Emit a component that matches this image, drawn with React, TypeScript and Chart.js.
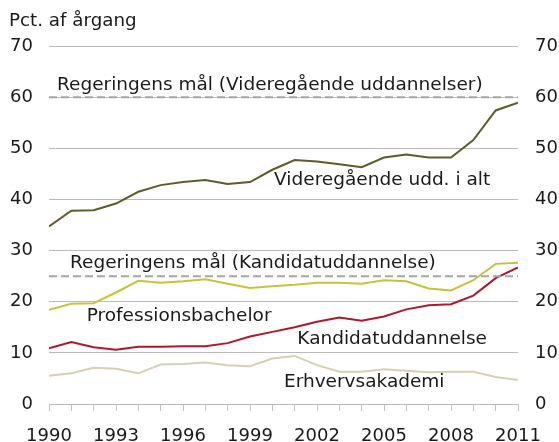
import React, { useEffect, useRef } from "react";
import { Chart, registerables } from "chart.js";

Chart.register(...registerables);

const years = [1990, 1991, 1992, 1993, 1994, 1995, 1996, 1997, 1998, 1999, 2000, 2001, 2002, 2003, 2004, 2005, 2006, 2007, 2008, 2009, 2010, 2011];
const videregaaende = [34.7, 37.8, 37.9, 39.2, 41.5, 42.8, 43.4, 43.8, 43.0, 43.4, 45.8, 47.7, 47.4, 46.9, 46.3, 48.2, 48.8, 48.2, 48.2, 51.6, 57.4, 58.9];
const professionsbachelor = [18.4, 19.6, 19.7, 21.8, 24.1, 23.7, 24.0, 24.4, 23.5, 22.7, 23.0, 23.3, 23.7, 23.7, 23.5, 24.2, 24.0, 22.6, 22.2, 24.2, 27.4, 27.6];
const kandidat = [10.9, 12.1, 11.1, 10.6, 11.2, 11.2, 11.3, 11.3, 11.9, 13.2, 14.1, 15.0, 16.1, 16.9, 16.3, 17.1, 18.5, 19.3, 19.5, 21.2, 24.6, 26.7];
const erhvervsakademi = [5.5, 6.0, 7.1, 6.9, 6.0, 7.7, 7.8, 8.1, 7.6, 7.4, 8.9, 9.4, 7.6, 6.3, 6.3, 6.8, 6.5, 6.2, 6.3, 6.3, 5.3, 4.7];
const goalVideregaaende = 60;
const goalKandidat = 25;
const yTicks = [0, 10, 20, 30, 40, 50, 60, 70];
const xLabelYears = [1990, 1993, 1996, 1999, 2002, 2005, 2008, 2011];

const titleText = "Pct. af årgang";
const annotations = [
  { text: "Regeringens mål (Videregående uddannelser)", x: 1990.36, y: 62.4 },
  { text: "Videregående udd. i alt", x: 2000.08, y: 43.8 },
  { text: "Regeringens mål (Kandidatuddannelse)", x: 1990.94, y: 27.5 },
  { text: "Professionsbachelor", x: 1991.69, y: 17.1 },
  { text: "Kandidatuddannelse", x: 2001.12, y: 12.65 },
  { text: "Erhvervsakademi", x: 2000.52, y: 4.24 },
];

const FONT = "'DejaVu Sans', Verdana, sans-serif";

export default function App() {
  const ref = useRef<HTMLCanvasElement>(null);
  useEffect(() => {
    document.body.style.margin = "0";
    const toPts = (arr: number[]) => arr.map((v, i) => ({ x: years[i], y: v }));
    const flat = (v: number) => years.map((y) => ({ x: y, y: v }));
    const textPlugin = {
      id: "texts",
      afterDatasetsDraw(chart: any) {
        const { ctx, scales } = chart;
        ctx.save();
        ctx.fillStyle = "#1a1a1a";
        ctx.font = `18.5px ${FONT}`;
        ctx.textBaseline = "middle";
        ctx.textAlign = "left";
        for (const a of annotations) {
          ctx.fillText(a.text, scales.x.getPixelForValue(a.x), scales.y.getPixelForValue(a.y));
        }
        ctx.font = `18.3px ${FONT}`;
        ctx.fillText(titleText, 9, 21);
        ctx.restore();
      },
    };
    const chart = new Chart(ref.current!, {
      type: "line",
      data: {
        datasets: [
          { data: flat(goalVideregaaende), borderColor: "#a6a6a6", borderWidth: 2, borderDash: [8, 4], pointRadius: 0 },
          { data: flat(goalKandidat), borderColor: "#a6a6a6", borderWidth: 2, borderDash: [8, 4], pointRadius: 0 },
          { data: toPts(erhvervsakademi), borderColor: "#d8d0b2", borderWidth: 2, pointRadius: 0 },
          { data: toPts(kandidat), borderColor: "#b0172c", borderWidth: 2, pointRadius: 0 },
          { data: toPts(professionsbachelor), borderColor: "#c9c23c", borderWidth: 2, pointRadius: 0 },
          { data: toPts(videregaaende), borderColor: "#5f5c2a", borderWidth: 2, pointRadius: 0 },
        ],
      },
      options: {
        responsive: false,
        animation: false,
        layout: { padding: { top: 46, left: 10, right: 0, bottom: 0 } },
        plugins: { legend: { display: false }, tooltip: { enabled: false }, title: { display: false } },
        scales: {
          x: {
            type: "linear",
            min: 1990,
            max: 2011,
            border: { display: false },
            afterBuildTicks: (s: any) => { s.ticks = years.map((v) => ({ value: v })); },
            afterFit: (s: any) => { s.height = 38; },
            ticks: {
              autoSkip: false,
              maxRotation: 0,
              padding: 15,
              color: "#1a1a1a",
              font: { family: FONT, size: 18 },
              callback: (v: any) => (xLabelYears.includes(Number(v)) ? String(v) : ""),
            },
            grid: { drawOnChartArea: false, drawTicks: true, tickLength: 7, color: "#c4c4c4", lineWidth: 1 },
          },
          y: {
            position: "left",
            min: 0,
            max: 70,
            border: { display: false },
            afterBuildTicks: (s: any) => { s.ticks = yTicks.map((v) => ({ value: v })); },
            afterFit: (s: any) => { s.width = 39; },
            ticks: { padding: 16, color: "#1a1a1a", font: { family: FONT, size: 18 } },
            grid: { drawTicks: false, color: "#bbbbbb", lineWidth: 1 },
          },
          y2: {
            position: "right",
            min: 0,
            max: 70,
            border: { display: false },
            afterBuildTicks: (s: any) => { s.ticks = yTicks.map((v) => ({ value: v })); },
            afterFit: (s: any) => { s.width = 41; },
            ticks: { padding: 17, color: "#1a1a1a", font: { family: FONT, size: 18 } },
            grid: { display: false, drawTicks: false },
          },
        },
      },
      plugins: [textPlugin],
    } as any);
    return () => chart.destroy();
  }, []);
  return <canvas ref={ref} width={559} height={442} style={{ display: "block" }} />;
}
